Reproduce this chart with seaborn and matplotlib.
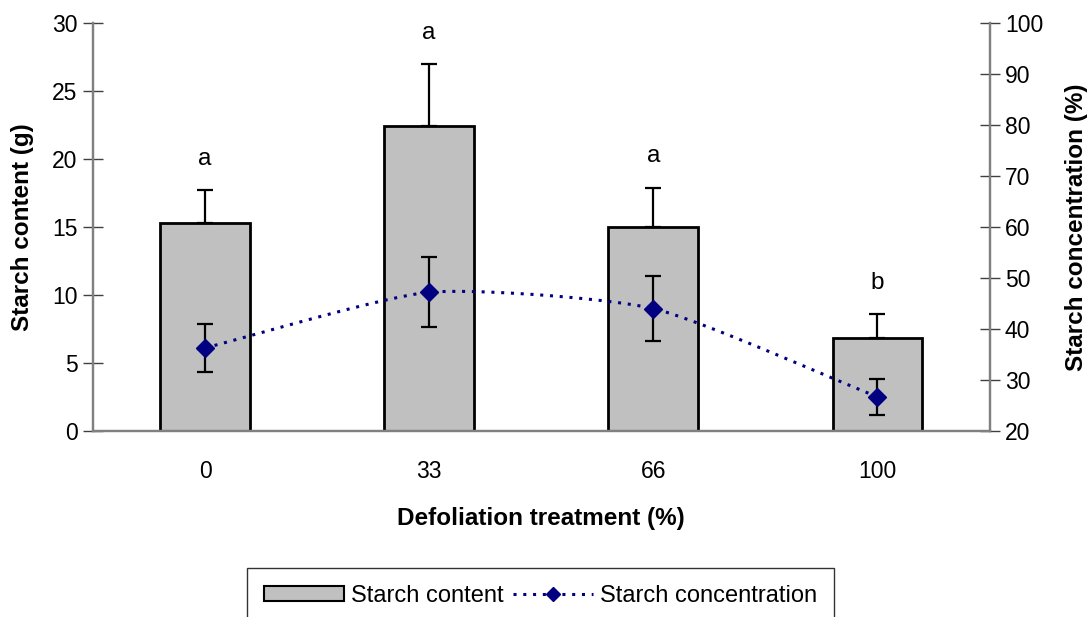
import numpy as np
import matplotlib
matplotlib.use('Agg')
import matplotlib.pyplot as plt
import seaborn as sns
import pandas as pd
from matplotlib.patches import Patch
from matplotlib.lines import Line2D

# data
treatments = ['0', '33', '66', '100']
content = [15.3, 22.4, 15.0, 6.85]          # g
content_err = [2.4, 4.6, 2.9, 1.75]
concentration = [36.3, 47.2, 44.0, 26.7]    # %
concentration_err = [4.7, 6.9, 6.3, 3.5]
letters = ['a', 'a', 'a', 'b']

NAVY = '#000080'
GREY = '#808080'

sns.set_style('white')
plt.rcParams['font.family'] = ['Liberation Sans', 'DejaVu Sans']
plt.rcParams.update({'text.color': 'black', 'axes.labelcolor': 'black',
                     'xtick.color': 'black', 'ytick.color': 'black'})


def smooth(x, y, k=0.3, n=40):
    # cardinal spline, like the spreadsheet "smoothed line"
    x = np.asarray(x, float)
    y = np.asarray(y, float)
    px = np.concatenate([[2 * x[0] - x[1]], x, [2 * x[-1] - x[-2]]])
    py = np.concatenate([[2 * y[0] - y[1]], y, [2 * y[-1] - y[-2]]])
    t = np.linspace(0, 1, n)
    h00 = 2 * t ** 3 - 3 * t ** 2 + 1
    h10 = t ** 3 - 2 * t ** 2 + t
    h01 = -2 * t ** 3 + 3 * t ** 2
    h11 = t ** 3 - t ** 2
    xs, ys = [], []
    for i in range(1, len(px) - 2):
        for p, out in ((px, xs), (py, ys)):
            m1 = k * (p[i + 1] - p[i - 1])
            m2 = k * (p[i + 2] - p[i])
            out.append(h00 * p[i] + h10 * m1 + h01 * p[i + 1] + h11 * m2)
    return np.concatenate(xs), np.concatenate(ys)


df = pd.DataFrame({'treatment': treatments, 'content': content, 'concentration': concentration})
pos = np.arange(len(treatments))

fig = plt.figure(figsize=(10.9, 6.17), dpi=100)
ax = fig.add_axes([0.0853, 0.3015, 0.8225, 0.6612])

sns.barplot(data=df, x='treatment', y='content', ax=ax, width=0.4,
            color='#C0C0C0', edgecolor='black', linewidth=2, saturation=1, errorbar=None)
ax.errorbar(pos, content, yerr=[np.zeros(len(pos)), content_err], fmt='none',
            ecolor='black', elinewidth=1.6, capsize=6, capthick=1.6, zorder=3)
for i, (c, e, l) in enumerate(zip(content, content_err, letters)):
    ax.text(i, c + e + 2.3, l, ha='center', va='center', fontsize=17.5)

ax.set_xlim(-0.5, 3.5)
ax.set_ylim(0, 30)
ax.set_yticks(np.arange(0, 31, 5))
ax.set_xticks(pos)
ax.set_xticks([0.5, 1.5, 2.5], minor=True)
ax.tick_params(axis='x', which='major', length=0, pad=21, labelsize=16.5)
ax.tick_params(axis='x', which='minor', direction='inout', length=14, width=1, color='#404040')
ax.tick_params(axis='y', direction='inout', length=14, width=1, color='#404040', labelsize=16.5, pad=4)
ax.set_xlabel('Defoliation treatment (%)', fontsize=17.5, fontweight='bold', labelpad=17)
ax.set_ylabel('Starch content (g)', fontsize=17.5, fontweight='bold', labelpad=13)

ax2 = ax.twinx()
sx, sy = smooth(pos, concentration)
sns.lineplot(x=sx, y=sy, ax=ax2, color=NAVY, linewidth=2.2, linestyle=(0, (1, 2.2)),
             sort=False, estimator=None)
ax2.errorbar(pos, concentration, yerr=concentration_err, fmt='none', ecolor='black',
             elinewidth=1.6, capsize=6, capthick=1.6, zorder=4)
ax2.plot(pos, concentration, linestyle='none', marker='D', markersize=9, color=NAVY, zorder=5)
ax2.set_ylim(20, 100)
ax2.set_yticks(np.arange(20, 101, 10))
ax2.tick_params(axis='y', direction='inout', length=14, width=1, color='#404040', labelsize=16.5, pad=4)
ax2.set_ylabel('Starch concentration (%)', fontsize=17.5, fontweight='bold', labelpad=16)

for a in (ax, ax2):
    a.spines['top'].set_visible(False)
    for s in ('left', 'right', 'bottom'):
        a.spines[s].set_color(GREY)
        a.spines[s].set_linewidth(1.6)

handles = [Patch(facecolor='#C0C0C0', edgecolor='black', linewidth=1.5),
           Line2D([], [], color=NAVY, linestyle=(0, (1, 2.2)), linewidth=2.2,
                  marker='D', markersize=7)]
leg = fig.legend(handles, ['Starch content', 'Starch concentration'], loc='upper center',
                 bbox_to_anchor=(0.496, 0.079), ncol=2, fontsize=17, frameon=True,
                 fancybox=False, edgecolor='black', handlelength=3.4, handleheight=0.6,
                 columnspacing=0.4, handletextpad=0.3, borderpad=0.7, borderaxespad=0)
leg.get_frame().set_linewidth(1)

fig.savefig('out.png', dpi=100)
